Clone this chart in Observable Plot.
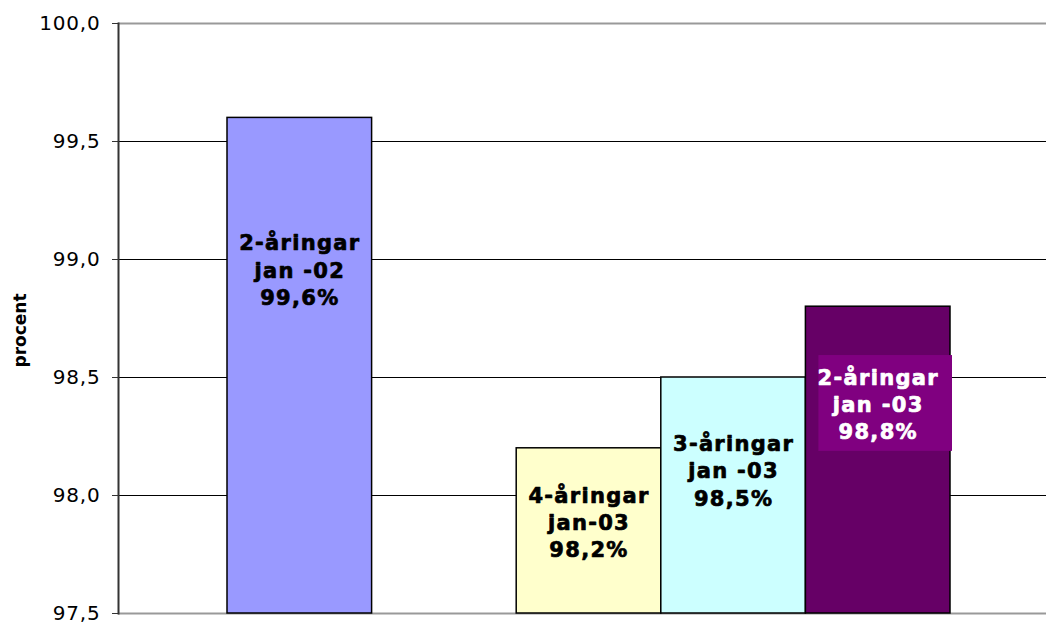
<!DOCTYPE html>
<html>
<head>
<meta charset="utf-8">
<script src="https://cdn.jsdelivr.net/npm/d3@7"></script>
<script src="https://cdn.jsdelivr.net/npm/@observablehq/plot@0.6"></script>
<style>
  html, body { margin: 0; padding: 0; background: #fff; }
  #chart svg { display: block; }
</style>
</head>
<body>
<div id="chart"></div>
<script>
// ---- data ----
const groups = ["2-åringar", "4-åringar", "3-åringar", "2-åringar"];
const periods = ["jan -02", "jan-03", "jan -03", "jan -03"];
const values = [99.6, 98.2, 98.5, 98.8];
const fills = ["#9999FF", "#FFFFCC", "#CCFFFF", "#660066"];
const textColors = ["#000000", "#000000", "#000000", "#FFFFFF"];
const labelBoxes = [null, null, null, "#800080"];
const labelAt = [98.96, 97.89, 98.11, 98.39];
const slotOrder = ["s0", "gap", "s1", "s2", "s3"];
const yTicks = [97.5, 98.0, 98.5, 99.0, 99.5, 100.0];
const yLabel = "procent";

const fmt = d => d3.format(".1f")(d).replace(".", ",");
const data = values.map((v, i) => ({
  slot: "s" + i,
  value: v,
  fill: fills[i],
  color: textColors[i],
  box: labelBoxes[i],
  at: labelAt[i],
  label: groups[i] + "\n" + periods[i] + "\n" + fmt(v) + "%"
}));
const base = yTicks[0];

const chart = Plot.plot({
  width: 1046,
  height: 622,
  marginLeft: 118,
  marginRight: 0,
  marginTop: 23,
  marginBottom: 9,
  style: { fontFamily: "DejaVu Sans, Verdana, sans-serif", background: "#fff" },
  x: { type: "band", domain: slotOrder, padding: 0, round: false, insetLeft: 109, insetRight: 96, axis: null },
  y: { domain: [yTicks[0], yTicks[yTicks.length - 1]], axis: null },
  marks: [
    Plot.ruleY(yTicks.slice(1, -1), { stroke: "#000", strokeWidth: 1 }),
    Plot.ruleY([yTicks[0], yTicks[yTicks.length - 1]], { stroke: "#999", strokeWidth: 2 }),
    Plot.barY(data, { x: "slot", y1: () => base, y2: "value", fill: "fill", stroke: "#000", strokeWidth: 1.5 }),
    Plot.barY(data.filter(d => d.box), { x: "slot", y1: d => d.at - 0.203, y2: d => d.at + 0.203, fill: "box", insetLeft: 13, insetRight: -2 }),
    Plot.text(data, { x: "slot", y: "at", text: "label", fill: "color", stroke: "color", strokeWidth: 0.7, fontSize: 21, fontWeight: "bold", lineHeight: 1.3, lineAnchor: "middle", textAnchor: "middle" }),
    Plot.axisY({ ticks: yTicks, tickFormat: fmt, tickSize: 6, tickPadding: 12, fontSize: 20, label: null, stroke: "#333", fill: "#000" }),
    Plot.frame({ anchor: "left", stroke: "#333", strokeWidth: 2 }),
    Plot.text([yLabel], { frameAnchor: "left", rotate: -90, dx: -98, dy: 12, textAnchor: "middle", fontSize: 17, fontWeight: "bold", fill: "#000" })
  ]
});
document.getElementById("chart").appendChild(chart);
d3.select(chart).selectAll('g[aria-label="text"]').filter((d, i) => i === 0).selectAll("text").style("letter-spacing", "1.3px");
d3.select(chart).selectAll('g[aria-label="y-axis tick label"] text').style("letter-spacing", "0.8px");
</script>
</body>
</html>
